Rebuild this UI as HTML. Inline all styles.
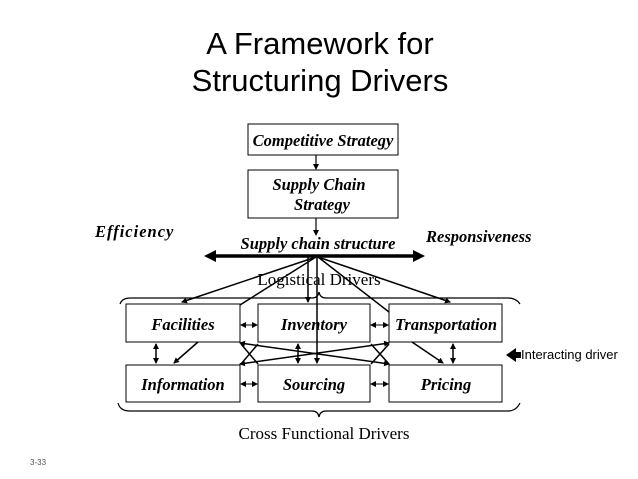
<!DOCTYPE html>
<html><head><style>
body{margin:0;background:#fff;}
svg{display:block;}
.t{font-family:"Liberation Serif",serif;font-weight:bold;font-style:italic;font-size:16.5px;}
</style></head><body>
<svg width="638" height="479" viewBox="0 0 638 479" xmlns="http://www.w3.org/2000/svg">
<defs>
<marker id="a" markerWidth="6" markerHeight="6" refX="5" refY="3" orient="auto" markerUnits="userSpaceOnUse"><path d="M0,0 L6,3 L0,6 z" fill="#000"/></marker>
<marker id="b" markerWidth="6" markerHeight="6" refX="1" refY="3" orient="auto" markerUnits="userSpaceOnUse"><path d="M6,0 L0,3 L6,6 z" fill="#000"/></marker>
</defs>
<text x="320" y="54" font-family="Liberation Sans, sans-serif" font-size="31" text-anchor="middle">A Framework for</text>
<text x="320" y="91" font-family="Liberation Sans, sans-serif" font-size="31" text-anchor="middle">Structuring Drivers</text>

<g fill="none" stroke="#000" stroke-width="1">
<rect x="248" y="124" width="150" height="31"/>
<rect x="248" y="170" width="150" height="48"/>
<rect x="126" y="304" width="114" height="38"/>
<rect x="258" y="304" width="112" height="38"/>
<rect x="389" y="304" width="113" height="38"/>
<rect x="126" y="365" width="114" height="37"/>
<rect x="258" y="365" width="112" height="37"/>
<rect x="389" y="365" width="113" height="37"/>
</g>
<text class="t" x="323" y="146" text-anchor="middle">Competitive Strategy</text>
<text class="t" x="319" y="190" text-anchor="middle">Supply Chain</text>
<text class="t" x="322" y="210" text-anchor="middle">Strategy</text>
<text class="t" x="95" y="237" font-size="17" letter-spacing="1">Efficiency</text>
<text class="t" x="426" y="242" font-size="17">Responsiveness</text>
<text class="t" x="318" y="249" font-size="17" text-anchor="middle">Supply chain structure</text>
<text class="t" x="183" y="330" text-anchor="middle">Facilities</text>
<text class="t" x="314" y="330" text-anchor="middle">Inventory</text>
<text class="t" x="446" y="330" text-anchor="middle">Transportation</text>
<text class="t" x="183" y="390" text-anchor="middle">Information</text>
<text class="t" x="314" y="390" text-anchor="middle">Sourcing</text>
<text class="t" x="446" y="390" text-anchor="middle">Pricing</text>
<text x="319" y="285" font-family="Liberation Serif, serif" font-size="17" text-anchor="middle">Logistical Drivers</text>
<text x="324" y="439" font-family="Liberation Serif, serif" font-size="17" text-anchor="middle">Cross Functional Drivers</text>
<text x="521" y="359" font-family="Liberation Sans, sans-serif" font-size="13">Interacting driver</text>
<text x="30" y="465" font-family="Liberation Sans, sans-serif" font-size="8" fill="#555">3-33</text>

<g stroke="#000" fill="none" stroke-width="1.2">
<line x1="316" y1="155" x2="316" y2="169" marker-end="url(#a)"/>
<line x1="316" y1="218" x2="316" y2="235" marker-end="url(#a)"/>
<path d="M120,304 Q122,298 130,298 L312,298 Q318,298 319,292 Q320,298 326,298 L508,298 Q516,298 520,304"/>
<path d="M118,403 Q120,411 130,411 L312,411 Q318,411 319,417 Q320,411 326,411 L508,411 Q516,411 520,403"/>
</g>
<g stroke="#000" stroke-width="3.5" fill="#000">
<line x1="212" y1="256" x2="416" y2="256"/>
<path d="M204,256 L216,250 L216,262 z" stroke="none"/>
<path d="M425,256 L413,250 L413,262 z" stroke="none"/>
</g>
<g stroke="#000" stroke-width="1.5" fill="none">
<line x1="316" y1="257" x2="182" y2="302" marker-end="url(#a)"/>
<line x1="316" y1="257" x2="240" y2="305"/>
<line x1="308" y1="257" x2="308" y2="302" marker-end="url(#a)"/>
<line x1="317" y1="257" x2="317" y2="363" marker-end="url(#a)"/>
<line x1="318" y1="257" x2="389" y2="312"/>
<line x1="318" y1="257" x2="450" y2="302" marker-end="url(#a)"/>
<line x1="198" y1="342" x2="174" y2="363" marker-end="url(#a)"/>
<line x1="412" y1="342" x2="443" y2="363" marker-end="url(#a)"/>
<line x1="240" y1="343" x2="389" y2="364" marker-end="url(#a)" marker-start="url(#b)"/>
<line x1="389" y1="343" x2="240" y2="364" marker-end="url(#a)" marker-start="url(#b)"/>
<line x1="241" y1="344" x2="258" y2="364"/>
<line x1="258" y1="344" x2="241" y2="364"/>
<line x1="371" y1="344" x2="389" y2="364"/>
<line x1="389" y1="344" x2="371" y2="364"/>
<line x1="156" y1="344" x2="156" y2="363" marker-end="url(#a)" marker-start="url(#b)"/>
<line x1="298" y1="344" x2="298" y2="363" marker-end="url(#a)" marker-start="url(#b)"/>
<line x1="453" y1="344" x2="453" y2="363" marker-end="url(#a)" marker-start="url(#b)"/>
</g>
<g stroke="#000" stroke-width="1" fill="none">
<line x1="241" y1="325" x2="257" y2="325" marker-end="url(#a)" marker-start="url(#b)"/>
<line x1="371" y1="325" x2="388" y2="325" marker-end="url(#a)" marker-start="url(#b)"/>
<line x1="241" y1="384" x2="257" y2="384" marker-end="url(#a)" marker-start="url(#b)"/>
<line x1="371" y1="384" x2="388" y2="384" marker-end="url(#a)" marker-start="url(#b)"/>
</g>
<path d="M506,355 L516,348 L516,352 L521,352 L521,358 L516,358 L516,362 z" fill="#000"/>
</svg>
</body></html>
